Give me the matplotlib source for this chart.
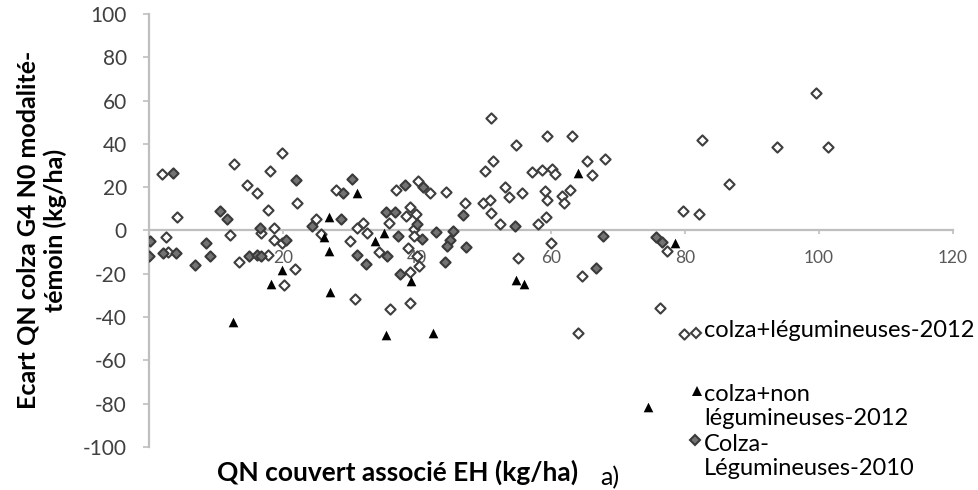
import matplotlib
matplotlib.use("Agg")
import matplotlib.pyplot as plt
from matplotlib.lines import Line2D

# ── data ─────────────────────────────────────────────────────────────
# colza + légumineuses 2012 (open diamonds)
leg12_x = [2.0, 4.2, 2.6, 2.9, 12.1, 12.7, 13.4, 17.8, 14.7, 16.1, 18.0, 19.9,
           17.7, 16.7, 18.6, 18.6, 19.9, 20.1, 21.8, 22.1, 25.0, 25.6, 27.9,
           30.0, 30.7, 31.0, 31.9, 32.6, 34.3, 35.8, 36.9, 40.2, 41.9, 44.4,
           38.9, 38.3, 39.8, 39.5, 39.6, 38.6, 40.0, 40.3, 38.9, 35.9, 38.9,
           47.2, 49.9, 50.9, 51.0, 51.0, 51.3, 50.1, 52.4, 53.1, 53.7, 55.6,
           54.8, 55.1, 57.1, 58.6, 60.1, 60.6, 59.4, 63.2, 59.1, 59.4, 61.6,
           62.9, 61.9, 58.0, 59.3, 60.0, 64.6, 64.1, 65.4, 66.1, 68.1, 77.3,
           76.2, 79.8, 79.7, 82.1, 82.5, 86.6, 93.8, 99.6, 101.4]
leg12_y = [25.9, 6.3, -3.2, -9.8, -2.0, 30.5, -14.5, -11.1, 20.8, 17.4, 27.4, 35.9,
           9.4, -1.1, 1.0, -4.2, -5.8, -25.3, -17.8, 12.5, 5.1, -1.5, 18.5,
           -5.0, -31.6, 1.2, 3.5, -1.1, -10.1, 3.5, 18.5, 23.0, 17.1, 17.6,
           11.0, 6.5, 7.8, 0.5, -2.5, -8.0, -11.9, -16.5, -19.3, -36.3, -33.4,
           12.8, 12.8, 13.9, 7.9, 51.8, 32.0, 27.7, 3.1, 20.2, 15.6, 17.4,
           39.3, -12.6, 26.9, 27.9, 28.2, 25.9, 43.6, 43.6, 18.2, 13.9, 15.8,
           18.6, 12.5, 3.1, 6.1, -5.8, -21.1, -47.3, 32.0, 25.5, 32.8, -9.6,
           -35.7, -48.0, 9.2, 7.4, 42.0, 21.7, 38.5, 63.6, 38.5]

# colza + non légumineuses 2012 (black triangles)
nonleg12_x = [12.6, 18.2, 19.9, 26.8, 26.1, 26.9, 27.0, 31.1, 33.7, 35.1, 35.4,
              39.1, 42.4, 54.8, 56.0, 64.1, 74.5, 78.5]
nonleg12_y = [-42.3, -24.5, -18.2, 6.4, -2.9, -9.6, -28.3, 17.1, -4.9, -1.1, -48.3,
              -23.2, -47.5, -23.0, -24.9, 26.4, -81.5, -5.7]

# Colza - Légumineuses 2010 (grey diamonds)
leg10_x = [0.2, 0.0, 2.1, 3.6, 4.0, 6.9, 8.5, 9.1, 10.6, 11.6, 15.0, 16.1, 16.7,
           16.6, 20.4, 22.0, 24.4, 28.6, 28.9, 30.3, 31.0, 32.4, 35.3, 36.7,
           35.5, 37.2, 38.2, 40.9, 40.0, 40.8, 37.5, 42.9, 45.4, 44.9, 44.5,
           47.3, 44.2, 46.9, 54.6, 67.7, 66.7, 75.7, 76.5]
leg10_y = [-5.0, -12.0, -10.5, 26.6, -10.5, -16.0, -6.0, -11.9, 8.9, 5.1, -11.9,
           -11.1, -11.9, 1.0, -4.3, 23.4, 2.2, 5.1, 17.4, 23.6, -11.1, -15.7,
           8.7, 8.7, -11.8, -2.6, 21.0, 20.0, 3.2, -4.0, -20.2, -0.9, -0.3,
           -4.2, -7.0, -7.5, -14.4, 7.2, 2.3, -2.6, -17.2, -2.9, -5.4]

x_ticks = [0, 20, 40, 60, 80, 100, 120]
x_ticklabels = ["", "20", "40", "60", "80", "100", "120"]  # "0" hidden under a point
labels = ["colza+légumineuses-2012", "colza+non\nlégumineuses-2012",
          "Colza-\nLégumineuses-2010"]

# ── figure ───────────────────────────────────────────────────────────
plt.rcParams["font.family"] = ["Lato", "DejaVu Sans"]
plt.rcParams["axes.unicode_minus"] = False

W, H = 979, 490
fig = plt.figure(figsize=(W / 100, H / 100), dpi=100)
ax = fig.add_axes([149 / W, 43 / H, 804 / W, 433 / H])

ax.scatter(leg12_x, leg12_y, marker="D", s=27, facecolor="white",
           edgecolor="#3f3f3f", linewidth=1.5, zorder=3)
ax.scatter(nonleg12_x, nonleg12_y, marker="^", s=48, color="black",
           linewidth=0, zorder=4)
ax.scatter(leg10_x, leg10_y, marker="D", s=27, facecolor="#737373",
           edgecolor="#3a3a3a", linewidth=1.5, zorder=5)

ax.set_xlim(0, 120)
ax.set_ylim(-100, 100)
ax.set_xticks(x_ticks)
ax.set_xticklabels(x_ticklabels)
ax.set_yticks(range(-100, 101, 20))

for s in ["top", "right"]:
    ax.spines[s].set_visible(False)
ax.spines["bottom"].set_position(("data", 0))
for s in ["left", "bottom"]:
    ax.spines[s].set_color("#bfbfbf")
    ax.spines[s].set_linewidth(1.6)
    ax.spines[s].set_zorder(0.5)
ax.set_axisbelow(True)

ax.tick_params(axis="y", direction="out", length=4, width=1.2, color="#bfbfbf",
               labelsize=15, labelcolor="#404040", pad=12)
ax.tick_params(axis="x", direction="out", length=3, width=1.2, color="#bfbfbf",
               labelsize=12.5, labelcolor="#595959", pad=11)

# axis titles
fig.text(398 / W, 1 - 472 / H, "QN couvert associé EH (kg/ha)",
         ha="center", va="center", fontsize=19, fontweight="bold")
fig.text(42 / W, 1 - 230 / H, "Ecart QN colza G4 N0 modalité-\ntémoin (kg/ha)",
         ha="center", va="center", rotation=90, multialignment="center",
         fontsize=18, fontweight="bold", linespacing=1.2)

# legend (drawn by hand, Excel style)
styles = [
    dict(marker="D", markersize=5.2, markerfacecolor="white",
         markeredgecolor="#3f3f3f", markeredgewidth=1.5),
    dict(marker="^", markersize=6.5, markerfacecolor="black",
         markeredgewidth=0),
    dict(marker="D", markersize=5.2, markerfacecolor="#737373",
         markeredgecolor="#3a3a3a", markeredgewidth=1.5),
]
marker_pos = [(696, 333), (697, 391), (695, 440)]
text_top = [333, 397, 447]
for lab, st, (mx, my), ty in zip(labels, styles, marker_pos, text_top):
    fig.add_artist(Line2D([mx / W], [1 - my / H], transform=fig.transFigure,
                          linestyle="none", **st))
    fig.text(704 / W, 1 - (ty - 13) / H, lab, ha="left", va="top",
             fontsize=17, color="black", linespacing=1.2)

fig.text(600 / W, 1 - 478 / H, "a)", ha="left", va="center", fontsize=18)

fig.savefig("out.png", dpi=100)
